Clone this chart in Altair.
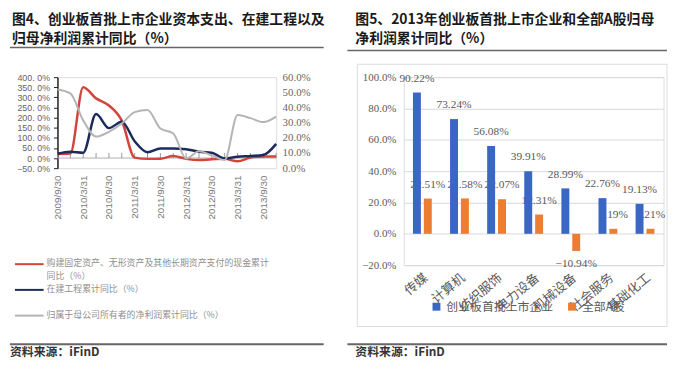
import altair as alt
import pandas as pd

# ---------------- Left panel data ----------------
quarters = ["2009/9/30", "2009/12/31", "2010/3/31", "2010/6/30", "2010/9/30", "2010/12/31",
            "2011/3/31", "2011/6/30", "2011/9/30", "2011/12/31", "2012/3/31", "2012/6/30",
            "2012/9/30", "2012/12/31", "2013/3/31", "2013/6/30", "2013/9/30", "2013/12/31"]
capex_yoy = [20, 22, 350, 295, 260, 185, 2, -4, -3, 10, -4, -10, -6, -4, -16, 2, 8, 8]
cip_yoy = [21, 31, 26, 218, 148, 180, 83, 29, 47, 47, 44, 31, 26, -2, 6, 10, 15, 70]
netprofit_yoy = [51.9, 49.3, 31.5, 20.8, 24.0, 29.4, 36.9, 38.4, 26.1, 22.9, 6.4, 11.1,
                 8.4, 5.4, 35.1, 33.0, 30.4, 34.0]
left_series = ["购建固定资产、无形资产及其他长期资产支付的现金累计同比（%）",
               "在建工程累计同比（%）",
               "归属于母公司所有者的净利润累计同比（%）"]
left_colors = ["#d2453d", "#1c2b5c", "#b4b4b4"]
left_tick_labels = quarters[::2]
left_y_ticks = [-50, 0, 50, 100, 150, 200, 250, 300, 350, 400]
right_y_ticks = [0, 10, 20, 30, 40, 50, 60]
left_title = "图4、创业板首批上市企业资本支出、在建工程以及\n归母净利润累计同比（%）"

# ---------------- Right panel data ----------------
industries = ["传媒", "计算机", "纺织服饰", "电力设备", "机械设备", "社会服务", "基础化工"]
gem_first_batch = [90.22, 73.24, 56.08, 39.91, 28.99, 22.76, 19.13]
all_a_shares = [22.51, 22.58, 22.07, 12.31, -10.94, 3.19, 3.21]
right_series = ["创业板首批上市企业", "全部A股"]
right_colors = ["#3a66c4", "#ed7d31"]
bar_y_ticks = [-20, 0, 20, 40, 60, 80, 100]
right_title = "图5、2013年创业板首批上市企业和全部A股归母\n净利润累计同比（%）"

source_text = "资料来源：iFinD"

CJK = "Noto Sans CJK SC"
one = pd.DataFrame({"k": [0]})


def text_at(txt, x, y, **kw):
    return alt.Chart(pd.DataFrame({"t": [txt]})).mark_text(
        align="left", baseline="top", lineBreak="\n", **kw
    ).encode(x=alt.value(x), y=alt.value(y), text="t:N")


def hline(x1, x2, y, color, w):
    return alt.Chart(one).mark_rule(color=color, strokeWidth=w).encode(
        x=alt.value(x1), x2=alt.value(x2), y=alt.value(y))


# ---------------- Left chart ----------------
W_L, H_L = 221, 92
dfL = pd.DataFrame({"q": quarters, "capex": capex_yoy, "cip": cip_yoy, "np": netprofit_yoy,
                    "t0": [0] * len(quarters), "t1": [25] * len(quarters)})

xL = alt.X("q:O", sort=quarters, title=None,
           scale=alt.Scale(type="point", padding=0),
           axis=alt.Axis(values=left_tick_labels, labelAngle=-90, labelAlign="right",
                         labelBaseline="middle", labelFontSize=10, labelColor="#777",
                         labelFont="Liberation Sans", domain=False, ticks=False,
                         labelPadding=7, grid=False))

axL = alt.Axis(orient="left", values=left_y_ticks,
               labelExpr="format(datum.value, 'd') + '. 0%'",
               labelFont="Liberation Sans", labelFontSize=9, labelColor="#666",
               domainColor="#222", domainWidth=1.5, tickColor="#222", tickSize=4,
               labelPadding=4, grid=False)
scL = alt.Scale(domain=[-50, 400], nice=False)


def yL(field):
    return alt.Y(field, scale=scL, axis=axL, title=None)


baseL = alt.Chart(dfL)
zero_rule = alt.Chart(pd.DataFrame({"z": [0]})).mark_rule(color="#b0b0b0", strokeWidth=1).encode(
    y=yL("z:Q"))
qticks = baseL.mark_rule(color="#999", strokeWidth=1).encode(x=xL, y=yL("t0:Q"), y2="t1:Q")
red = baseL.mark_line(color=left_colors[0], strokeWidth=2.5, interpolate="monotone").encode(
    x=xL, y=yL("capex:Q"))
navy = baseL.mark_line(color=left_colors[1], strokeWidth=2.5, interpolate="monotone").encode(
    x=xL, y=yL("cip:Q"))
inner = alt.layer(zero_rule, qticks, red, navy)

gray = baseL.mark_line(color=left_colors[2], strokeWidth=2, interpolate="monotone").encode(
    x=xL,
    y=alt.Y("np:Q", title=None, scale=alt.Scale(domain=[0, 60], nice=False),
            axis=alt.Axis(orient="right", values=right_y_ticks,
                          labelExpr="format(datum.value, '.1f') + '%'",
                          domain=False, ticks=False, labelFont="Liberation Serif",
                          labelFontSize=11, labelColor="#666", labelPadding=6, grid=False)))

decorL = [
    text_at(left_title, -46, -65, font=CJK, fontSize=14, fontWeight="bold",
            color="#1a1a1a", lineHeight=20),
    hline(-48, 269, -30, "#666", 1.5),
]
for i, name in enumerate(left_series):
    lines = [name] if len(name) <= 25 else [name[:25], name[25:]]
    yy = 189 + 26 * i
    decorL.append(hline(-43, -14, yy, left_colors[i], 2))
    for j, ln in enumerate(lines):
        decorL.append(text_at(ln, -11, yy - 5 + 13 * j, font=CJK, fontSize=9,
                              color="#8f8f8f"))
decorL.append(hline(-48, 269, 270, "#666", 2))
decorL.append(text_at(source_text, -48, 273, font=CJK, fontSize=12, fontWeight="bold",
                      color="#333"))

chartL = alt.layer(inner, gray, *decorL).resolve_scale(y="independent").properties(
    width=W_L, height=H_L)

# ---------------- Right chart ----------------
W_R, H_R = 262.5, 190
rows = []
for c, a, b in zip(industries, gem_first_batch, all_a_shares):
    rows.append({"cat": c, "series": right_series[0], "value": a})
    rows.append({"cat": c, "series": right_series[1], "value": b})
dfR = pd.DataFrame(rows)

xR = alt.X("cat:N", sort=industries, title=None,
           scale=alt.Scale(paddingInner=0, paddingOuter=0),
           axis=alt.Axis(labelAngle=-40, labelAlign="right", labelBaseline="top",
                         labelFont=CJK, labelFontSize=13, labelColor="#595959",
                         domain=False, ticks=False, labelPadding=6, grid=False))
xoR = alt.XOffset("series:N", sort=right_series,
                  scale=alt.Scale(domain=right_series, paddingInner=0.27, paddingOuter=0.84))
yR = alt.Y("value:Q", title=None, scale=alt.Scale(domain=[-20, 100], nice=False),
           axis=alt.Axis(values=bar_y_ticks, labelExpr="format(datum.value, '.1f') + '%'",
                         domain=False, ticks=False, gridColor="#d9d9d9",
                         labelFont="Liberation Sans Narrow", labelFontSize=11,
                         labelColor="#595959", labelPadding=8))

baseR = alt.Chart(dfR).transform_calculate(lab="format(datum.value, '.2f') + '%'")
frame = alt.Chart(one).mark_rect(fillOpacity=0, stroke="#dcdcdc", strokeWidth=1).encode(
    x=alt.value(-47), x2=alt.value(266), y=alt.value(-13), y2=alt.value(252))
lab_pos = baseR.transform_filter("datum.value >= 0").mark_text(
    font="Liberation Sans Narrow", fontSize=11.5, color="#595959", baseline="middle", dy=-14
).encode(x=xR, xOffset=xoR, y=yR, text="lab:N")
lab_neg = baseR.transform_filter("datum.value < 0").mark_text(
    font="Liberation Sans Narrow", fontSize=11.5, color="#595959", baseline="middle", dy=13
).encode(x=xR, xOffset=xoR, y=yR, text="lab:N")
bars = baseR.mark_bar().encode(
    x=xR, xOffset=xoR, y=yR,
    color=alt.Color("series:N", sort=right_series,
                    scale=alt.Scale(domain=right_series, range=right_colors),
                    legend=alt.Legend(orient="none", legendX=27, legendY=226,
                                      direction="horizontal", title=None,
                                      symbolType="square", symbolSize=64,
                                      symbolStrokeWidth=0, labelFont=CJK,
                                      labelFontSize=12, labelColor="#595959",
                                      columnPadding=12, labelOffset=4)))

decorR = [
    text_at(right_title, -49, -65, font=CJK, fontSize=14, fontWeight="bold",
            color="#1a1a1a", lineHeight=20),
    hline(-57, 266, -27, "#666", 1.5),
    hline(-57, 266, 270, "#666", 2),
    text_at(source_text, -49, 273, font=CJK, fontSize=12, fontWeight="bold", color="#333"),
]

chartR = alt.layer(frame, lab_pos, lab_neg, bars, *decorR).properties(width=W_R, height=H_R)

chart = alt.hconcat(chartL, chartR, spacing=20).resolve_legend(
    color="independent").resolve_scale(color="independent").properties(
    padding={"top": 2, "left": 0, "right": 0, "bottom": 0}).configure_view(
    stroke=None).configure(font="Liberation Sans")

chart.save("out.html", embed_options={"renderer": "svg", "actions": False})
